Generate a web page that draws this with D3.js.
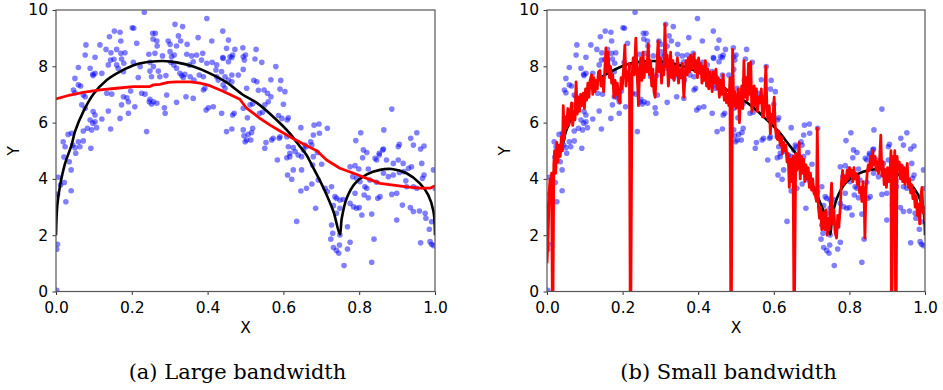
<!DOCTYPE html>
<html>
<head>
<meta charset="utf-8">
<script src="https://d3js.org/d3.v7.min.js"></script>
<style>
  body { margin: 0; background: #fff; }
  svg { display: block; }
</style>
</head>
<body>
<div id="chart"></div>
<script>
// noisy samples (same in both panels)
const samples = [
  [.233,9.92],[.398,9.70],[.201,9.37],[.205,9.35],[.314,9.49],[.334,9.41],[.440,9.25],[.154,9.25],[.169,9.21],
  [.255,9.17],[.262,9.17],[.141,9.05],[.323,9.08],[.375,9.02],[.256,8.97],[.266,8.90],[.171,8.90],[.296,8.90],
  [.329,8.90],[.411,8.90],[.455,8.93],[.079,8.76],[.116,8.76],[.213,8.82],[.267,8.72],[.301,8.78],[.318,8.72],
  [.346,8.78],[.132,8.60],[.145,8.48],[.160,8.60],[.450,8.64],[.472,8.60],[.493,8.66],[.077,8.40],[.103,8.32],
  [.171,8.46],[.182,8.48],[.245,8.43],[.261,8.46],[.281,8.37],[.301,8.52],[.305,8.34],[.312,8.40],[.345,8.43],
  [.358,8.37],[.371,8.40],[.387,8.46],[.440,8.31],[.464,8.31],[.466,8.40],[.144,8.22],[.153,8.25],[.173,8.26],
  [.160,8.05],[.059,7.96],[.090,7.93],[.138,8.05],[.179,8.11],[.204,8.14],[.222,7.99],[.248,8.14],[.257,7.99],
  [.303,8.14],[.311,8.05],[.318,7.93],[.352,8.05],[.362,8.16],[.384,8.22],[.398,8.11],[.412,8.14],[.424,8.05],
  [.441,8.28],[.455,8.16],[.459,8.34],[.497,8.22],[.494,8.34],[.050,7.57],[.059,7.34],[.065,7.30],[.097,7.72],
  [.098,7.67],[.103,7.75],[.121,7.75],[.164,7.93],[.178,7.81],[.217,7.60],[.248,7.83],[.252,7.63],[.270,7.83],
  [.274,7.63],[.290,7.67],[.327,7.75],[.332,7.67],[.336,7.60],[.340,7.72],[.354,7.63],[.364,7.51],[.378,7.69],
  [.389,7.63],[.422,7.87],[.437,7.81],[.424,7.63],[.428,7.51],[.446,7.63],[.455,7.51],[.464,7.69],[.481,7.69],
  [.046,7.16],[.050,7.06],[.072,6.98],[.077,6.92],[.134,7.04],[.147,7.01],[.178,6.92],[.187,6.88],[.197,7.12],
  [.226,7.04],[.235,7.01],[.248,6.83],[.257,6.74],[.266,6.69],[.292,6.98],[.343,6.92],[.362,6.86],[.389,7.16],
  [.393,7.22],[.441,7.34],[.446,7.22],[.464,7.45],[.068,6.63],[.077,6.51],[.098,6.39],[.103,6.27],[.138,6.41],
  [.173,6.63],[.191,6.74],[.191,6.33],[.169,6.15],[.208,6.56],[.246,6.74],[.252,6.66],[.286,6.53],[.288,6.33],
  [.318,6.72],[.396,6.45],[.402,6.53],[.415,6.56],[.437,6.33],[.466,6.27],[.470,6.33],[.494,6.51],[.090,6.09],
  [.097,5.98],[.103,6.03],[.121,6.13],[.072,5.70],[.083,5.80],[.094,5.74],[.107,5.82],[.144,5.77],[.239,5.68],
  [.450,5.68],[.464,5.77],[.494,5.74],[.496,5.53],[.019,5.32],[.032,5.58],[.041,5.62],[.059,5.32],[.072,5.35],
  [.024,5.14],[.050,5.11],[.063,5.14],[.092,5.09],[.503,5.38],[.507,5.58],
  [.044,5.20],[.021,4.78],[.035,4.61],[.052,4.91],[.040,4.32],[.006,4.06],[.022,3.87],[.012,3.78],[.040,3.58],
  [.004,3.45],[.026,3.19],[.004,1.68],[.002,1.50],[.002,0.04],
  [.528,8.60],[.500,8.40],[.525,8.26],[.543,8.14],[.494,7.89],[.580,7.99],[.522,7.50],[.530,7.45],[.567,7.52],
  [.593,7.50],[.503,7.22],[.534,7.15],[.549,7.16],[.558,7.04],[.591,7.19],[.604,7.10],[.567,6.92],[.560,6.74],
  [.600,6.65],[.512,6.63],[.519,6.67],[.551,6.63],[.505,6.17],[.537,6.33],[.545,6.37],[.587,6.25],[.596,6.15],
  [.613,6.17],[.610,6.09],[.519,5.80],[.499,5.32],[.516,5.65],[.514,5.38],[.554,5.29],[.551,5.09],[.569,5.38],
  [.573,5.44],[.589,5.44],[.591,5.50],[.609,5.50],[.646,5.82],[.681,5.91],[.694,5.95],[.695,5.62],[.716,5.80],
  [.679,5.56],[.672,5.32],[.657,5.20],[.626,5.11],[.617,4.91],[.631,4.97],[.886,6.48],[.865,5.74],[.804,5.64],
  [.791,5.36],[.811,5.03],[.820,4.94],[.862,5.03],[.853,4.91],[.906,5.23],[.903,5.14],[.936,5.44],[.943,5.20],
  [.952,5.64],[.962,5.06],[.971,5.17],
  [.584,4.67],[.609,4.75],[.617,4.79],[.639,4.85],[.648,4.79],[.653,5.03],[.611,4.14],[.622,3.99],[.626,4.32],
  [.648,4.32],[.646,3.57],[.661,3.67],[.675,3.82],[.635,2.49],[.685,2.96],[.690,4.94],[.679,4.79],[.677,4.49],
  [.701,4.52],[.692,3.96],[.710,3.67],[.716,3.55],[.727,3.72],[.736,3.37],[.740,3.31],[.749,3.25],[.758,3.27],
  [.732,3.05],[.749,2.96],[.740,2.78],[.727,2.36],[.730,2.07],[.749,2.01],[.769,2.30],[.725,1.86],[.732,1.56],
  [.740,1.46],[.748,1.65],[.746,1.36],[.769,1.51],[.776,1.75],[.760,0.92],[.833,1.04],[.839,1.86],[.776,4.43],
  [.789,4.47],[.799,4.35],[.783,4.08],[.793,4.02],[.802,3.90],[.815,3.72],[.820,3.67],[.776,3.13],[.785,3.01],
  [.793,2.96],[.800,2.98],[.789,3.49],[.813,3.43],[.824,3.33],[.807,2.72],[.833,2.75],[.809,4.75],[.824,4.35],
  [.846,4.67],[.842,4.73],[.853,4.85],[.864,5.06],[.872,4.67],[.890,4.55],[.903,4.67],[.916,4.55],[.930,4.38],
  [.938,4.43],[.965,4.55],[.864,4.20],[.877,4.08],[.890,4.14],[.906,4.23],[.918,4.26],[.828,3.96],[.846,3.88],
  [.849,3.31],[.855,3.37],[.886,3.45],[.899,3.49],[.923,3.93],[.925,3.72],[.943,3.72],[.952,3.67],[.914,3.07],
  [.935,2.98],[.943,2.84],[.959,2.86],[.974,2.78],[.967,4.02],[.971,4.14],[.899,2.54],[.976,2.60],[.991,2.48],
  [.985,2.21],[.962,1.73],[.987,1.77],[.991,1.68],[.996,1.63],[.996,4.32],[1.0,3.67],[.613,5.14],[.660,5.14],
  [.675,5.20]
]

// true function (black)
const trueCurve = [
  [0,2.0],[.0035,3.07],[.011,3.78],[.024,4.55],[.041,5.2],[.050,5.68],[.072,6.39],[.098,7.0],[.134,7.51],
  [.169,7.81],[.213,8.07],[.248,8.16],[.283,8.19],[.318,8.14],[.362,7.99],[.406,7.75],[.450,7.43],[.494,6.98],
  [.530,6.70],[.573,6.21],[.617,5.62],[.635,5.30],[.661,4.85],[.675,4.49],[.706,3.67],[.732,2.84],[.749,2.03],
  [.754,2.60],[.767,3.31],[.789,3.84],[.820,4.16],[.855,4.32],[.886,4.35],[.925,4.20],[.960,3.84],[.982,3.43],
  [.996,2.84],[1.0,2.0]
]

// large bandwidth estimate (red, left)
const smoothLarge = [
  [0,6.84],[.037,6.98],[.072,7.07],[.116,7.16],[.160,7.22],[.204,7.28],[.248,7.28],[.257,7.34],[.274,7.36],
  [.296,7.43],[.318,7.45],[.354,7.45],[.380,7.40],[.406,7.31],[.433,7.16],[.459,7.00],[.485,6.83],[.503,6.51],
  [.521,6.33],[.538,6.15],[.565,5.91],[.591,5.70],[.617,5.50],[.644,5.30],[.670,5.12],[.688,5.00],[.714,4.67],
  [.749,4.38],[.785,4.20],[.820,4.02],[.855,3.84],[.890,3.78],[.925,3.72],[.960,3.67],[.987,3.67],[1.0,3.76]
]

// small bandwidth estimate (red, right)
const smallX = [
  0,.003,.006,.008,.010,.012,.014,.016,.018,.020,.023,.026,.029,.032,.035,.038,.041,.043,.046,.049,
  .052,.055,.058,.061,.065,.068,.071,.074,.077,.080,.083,.086,.089,.092,.096,.099,.102,.105,.108,.111,
  .114,.118,.121,.124,.127,.130,.133,.136,.140,.143,.146,.150,.153,.156,.159,.162,.165,.168,.171,.174,
  .177,.180,.183,.186,.190,.193,.196,.199,.203,.206,.209,.212,.215,.218,.220,.222,.225,.228,.231,.235,
  .238,.242,.245,.248,.251,.254,.257,.260,.264,.268,.271,.274,.277,.280,.283,.286,.290,.294,.297,.300,
  .303,.306,.309,.312,.315,.318,.321,.324,.327,.330,.333,.336,.339,.342,.345,.348,.351,.355,.358,.362,
  .365,.368,.371,.374,.377,.380,.383,.386,.389,.392,.395,.398,.401,.404,.407,.410,.413,.416,.419,.422,
  .425,.428,.431,.434,.437,.440,.443,.447,.450,.453,.456,.459,.462,.466,.469,.472,.475,.478,.481,.484,
  .486,.488,.491,.494,.497,.500,.503,.506,.509,.512,.515,.518,.521,.524,.527,.530,.533,.536,.539,.542,
  .545,.548,.551,.554,.557,.560,.563,.567,.570,.573,.576,.579,.582,.585,.588,.591,.594,.597,.601,.604,
  .607,.610,.613,.617,.620,.623,.626,.629,.632,.635,.638,.641,.644,.648,.651,.653,.655,.658,.661,.664,
  .667,.670,.673,.676,.679,.682,.685,.688,.691,.694,.697,.700,.703,.706,.710,.713,.715,.718,.721,.724,
  .727,.729,.732,.735,.738,.741,.744,.747,.750,.753,.756,.759,.762,.766,.769,.772,.776,.779,.782,.785,
  .788,.791,.794,.797,.800,.803,.806,.809,.812,.815,.818,.821,.824,.827,.830,.833,.836,.839,.841,.844,
  .847,.850,.853,.856,.859,.862,.865,.868,.871,.874,.877,.880,.883,.886,.889,.892,.895,.898,.901,.904,
  .907,.910,.911,.913,.915,.918,.920,.922,.924,.926,.929,.932,.935,.938,.941,.944,.947,.950,.953,.956,
  .959,.962,.965,.968,.971,.974,.977,.980,.983,.986,.989,.992,.995,.998,1.0
]
const smallY = [
  1.0,2.0,3.6,4.0,3.2,4.2,0,0,4.5,5.0,4.2,5.3,4.6,5.2,4.8,5.5,5.0,6.6,5.4,6.2,
  5.8,6.5,5.9,6.3,6.7,5.9,6.4,6.1,7.45,6.3,6.9,6.4,7.0,6.6,7.05,6.5,7.2,6.8,7.4,6.9,
  7.5,7.7,7.0,7.6,7.1,7.5,7.2,7.8,7.85,7.3,7.6,7.1,7.9,8.65,7.8,8.5,7.6,8.0,7.4,7.7,
  6.9,7.5,7.0,7.4,6.8,6.7,7.6,7.2,8.0,8.75,7.3,7.8,7.5,8.1,0,0,7.6,8.3,7.7,9.0,
  7.9,6.6,7.9,8.3,7.5,8.5,7.6,8.1,7.8,8.8,7.7,8.2,7.3,7.9,7.1,6.9,7.9,8.9,7.8,8.3,
  7.4,8.0,7.7,9.5,8.0,8.4,7.3,7.8,8.5,7.6,8.2,7.5,8.0,7.7,8.3,7.4,7.9,7.6,8.1,6.9,
  7.6,8.2,7.7,8.3,7.8,8.4,7.9,8.2,8.45,7.8,8.2,7.6,8.3,7.8,8.1,7.4,8.0,7.5,8.2,7.3,
  7.9,7.2,7.8,7.5,7.1,7.8,7.4,7.9,7.2,7.6,6.9,7.5,7.0,7.7,6.8,7.2,6.7,7.0,6.6,7.6,
  0,0,8.6,6.6,7.1,6.5,6.6,7.2,6.0,6.8,7.3,6.5,8.2,6.9,7.6,6.8,8.1,7.0,8.15,6.4,
  7.0,7.3,6.6,7.2,6.4,6.9,6.7,7.2,6.2,6.2,7.0,8.0,6.4,6.1,6.6,5.6,6.3,6.0,6.9,5.8,
  5.5,5.4,5.7,5.2,5.5,4.9,5.3,5.0,5.2,4.6,4.9,3.7,4.7,3.9,4.8,0,0,4.9,4.3,4.6,
  5.3,4.0,4.8,4.2,4.7,3.9,4.5,4.0,4.4,3.7,4.2,3.6,4.0,3.5,3.4,3.2,5.8,3.0,2.6,3.0,
  2.2,2.4,2.8,2.2,2.9,2.0,2.6,2.2,3.2,3.85,2.4,2.9,2.1,1.9,2.7,2.3,3.0,3.9,4.3,3.8,
  4.1,3.9,4.3,4.0,4.4,4.1,4.3,3.9,4.4,4.0,4.2,3.8,4.1,3.5,3.7,3.2,3.9,3.3,1.9,3.6,
  4.2,4.5,4.3,4.8,4.4,5.0,4.5,4.8,4.3,4.6,4.2,4.7,5.55,4.1,4.6,3.8,4.3,3.7,4.4,3.9,
  4.1,5.0,0,0,4.8,4.2,5.0,0,0,4.8,4.3,4.6,4.0,4.5,3.9,4.4,3.8,4.2,4.55,3.7,
  4.0,3.5,3.8,3.3,3.6,3.0,3.4,2.7,3.1,2.4,3.4,3.7,2.8,3.0,2.5
]
const smoothSmall = smallX.map((x, i) => [x, smallY[i]])

const xTicks = [0, 0.2, 0.4, 0.6, 0.8, 1.0]
const yTicks = [0, 2, 4, 6, 8, 10]

const panels = [
  { left: 56, right: 435, fit: smoothLarge, caption: '(a) Large bandwidth', capX: 237.5 },
  { left: 547, right: 925, fit: smoothSmall, caption: '(b) Small bandwidth', capX: 728.5 }
]
const plotTop = 10, plotBottom = 291.5

const svg = d3.select('#chart').append('svg')
  .attr('width', 943)
  .attr('height', 390)
  .style('background', '#fff')

panels.forEach((p, i) => {
  const x = d3.scaleLinear().domain([0, 1]).range([p.left, p.right])
  const y = d3.scaleLinear().domain([0, 10]).range([plotBottom, plotTop])
  const g = svg.append('g')

  // clip to axes area
  g.append('clipPath').attr('id', 'clip' + i)
    .append('rect')
    .attr('x', p.left).attr('y', plotTop)
    .attr('width', p.right - p.left).attr('height', plotBottom - plotTop)

  const plot = g.append('g').attr('clip-path', `url(#clip${i})`)

  // scatter
  plot.selectAll('circle')
    .data(samples)
    .enter()
    .append('circle')
    .attr('cx', d => x(d[0]))
    .attr('cy', d => y(d[1]))
    .attr('r', 2.8)
    .attr('fill', '#0000ff')
    .attr('fill-opacity', 0.5)

  // true curve
  plot.append('path')
    .datum(trueCurve)
    .attr('d', d3.line().x(d => x(d[0])).y(d => y(d[1])).curve(d3.curveCatmullRom))
    .attr('fill', 'none')
    .attr('stroke', '#000')
    .attr('stroke-width', 2.6)

  // estimate
  plot.append('path')
    .datum(p.fit)
    .attr('d', d3.line().x(d => x(d[0])).y(d => y(d[1])))
    .attr('fill', 'none')
    .attr('stroke', '#ff0000')
    .attr('stroke-width', 2.8)
    .attr('stroke-linejoin', 'round')

  // axes
  const xAxis = g.append('g')
    .attr('transform', `translate(0, ${plotBottom})`)
    .call(d3.axisBottom(x).tickValues(xTicks).tickFormat(d3.format('.1f'))
      .tickSize(3.5).tickSizeOuter(0).tickPadding(7))
  const yAxis = g.append('g')
    .attr('transform', `translate(${p.left}, 0)`)
    .call(d3.axisLeft(y).tickValues(yTicks).tickFormat(d3.format('d'))
      .tickSize(3.5).tickSizeOuter(0).tickPadding(4.5))

  ;[xAxis, yAxis].forEach(a => {
    a.select('.domain').remove()
    a.selectAll('line').attr('stroke', '#333').attr('stroke-width', 1)
    a.selectAll('text')
      .attr('fill', '#000')
      .style('font-family', 'DejaVu Sans')
      .style('font-size', '15.5px')
  })

  // frame
  g.append('rect')
    .attr('x', p.left).attr('y', plotTop)
    .attr('width', p.right - p.left).attr('height', plotBottom - plotTop)
    .attr('fill', 'none')
    .attr('stroke', '#555')
    .attr('stroke-width', 1.2)

  //  axis labels
  g.append('text')
    .attr('x', (p.left + p.right) / 2)
    .attr('y', 333)
    .attr('text-anchor', 'middle')
    .style('font-family', 'DejaVu Sans')
    .style('font-size', '15.5px')
    .text('X')

  g.append('text')
    .attr('transform', `translate(${p.left - 42.5}, ${(plotTop + plotBottom) / 2}) rotate(-90)`)
    .attr('text-anchor', 'middle')
    .attr('dy', '0.35em')
    .style('font-family', 'DejaVu Sans')
    .style('font-size', '15.5px')
    .text('Y')

  // caption
  g.append('text')
    .attr('x', p.capX)
    .attr('y', 379)
    .attr('text-anchor', 'middle')
    .style('font-family', 'DejaVu Serif')
    .style('font-size', '21px')
    .text(p.caption)
})
</script>
</body>
</html>
